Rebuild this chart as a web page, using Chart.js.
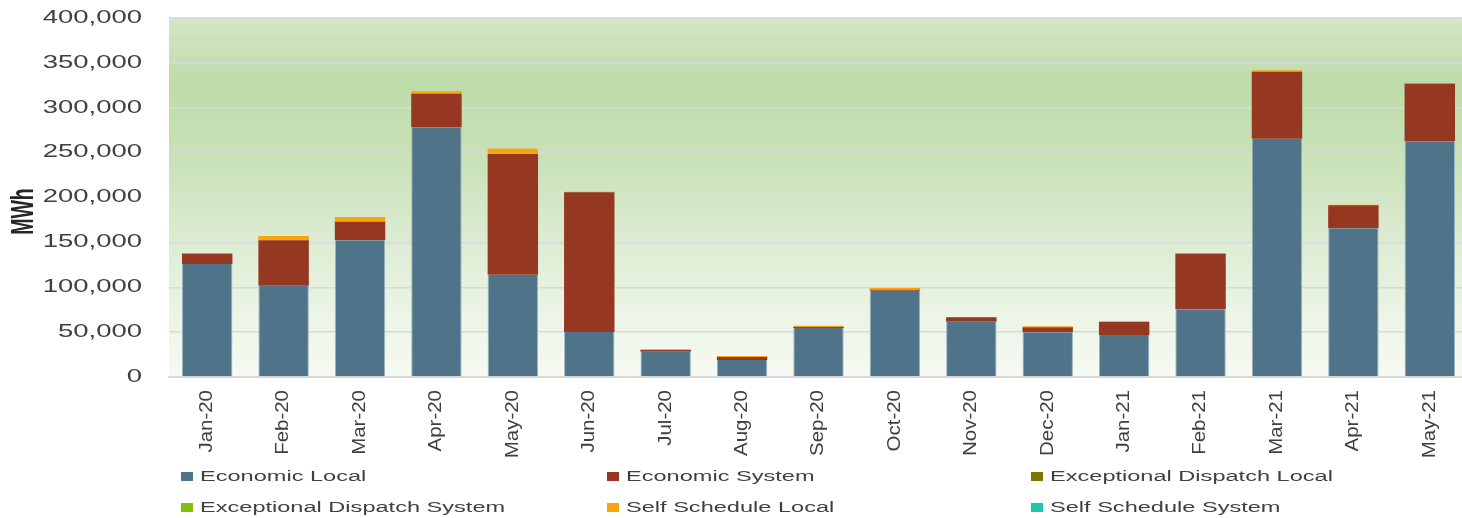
<!DOCTYPE html>
<html>
<head>
<meta charset="utf-8">
<script src="https://cdn.jsdelivr.net/npm/chart.js@4.4.1/dist/chart.umd.min.js"></script>
<style>
  html, body { margin: 0; padding: 0; background: #fff; overflow: hidden; }
  #wrap { position: relative; width: 1468px; height: 518px; }
  #legend { position: absolute; left: 0; top: 0; width: 1462px; height: 518px; pointer-events: none;
            font-family: "Liberation Sans", Arial, sans-serif; font-size: 15.5px; color: #404040; }
  .item { position: absolute; height: 20px; }
  .item .box { position: absolute; left: 0; top: 6px; width: 12px; height: 9px; }
  .item .txt { position: absolute; left: 19px; top: 1px; white-space: nowrap;
               transform: scaleX(1.52); transform-origin: left center; }
</style>
</head>
<body>
<div id="wrap">
  <canvas id="chart"></canvas>
  <div id="legend"></div>
</div>
<script>
const months = ['Jan-20', 'Feb-20', 'Mar-20', 'Apr-20', 'May-20', 'Jun-20', 'Jul-20', 'Aug-20', 'Sep-20',
                'Oct-20', 'Nov-20', 'Dec-20', 'Jan-21', 'Feb-21', 'Mar-21', 'Apr-21', 'May-21'];

const economicLocal   = [126000, 101700, 152300, 278200, 114000, 50100, 28200, 18900, 54600,
                         96200, 61600, 49800, 46800, 75400, 265500, 165700, 262600];
const economicSystem  = [11400, 50600, 20800, 37500, 134500, 155700, 1900, 3400, 1100,
                         1100, 4900, 5500, 14800, 62000, 74700, 25600, 64200];
const exceptionalLocal  = [0, 0, 0, 0, 0, 0, 0, 0, 0, 0, 0, 0, 0, 0, 0, 0, 0];
const exceptionalSystem = [0, 0, 0, 0, 0, 0, 0, 0, 0, 0, 0, 0, 0, 0, 0, 0, 0];
const selfLocal       = [800, 4800, 5200, 2600, 5900, 700, 700, 1100, 1500,
                         1900, 300, 1200, 300, 800, 1500, 700, 800];
const selfSystem      = [0, 0, 0, 0, 0, 0, 0, 0, 0, 0, 0, 0, 0, 0, 0, 0, 0];

const yTicks = [0, 50000, 100000, 150000, 200000, 250000, 300000, 350000, 400000];

const series = [
  { label: 'Economic Local',              data: economicLocal,     color: '#4f7489' },
  { label: 'Economic System',             data: economicSystem,    color: '#963722' },
  { label: 'Exceptional Dispatch Local',  data: exceptionalLocal,  color: '#807400' },
  { label: 'Exceptional Dispatch System', data: exceptionalSystem, color: '#84bf08' },
  { label: 'Self Schedule Local',         data: selfLocal,         color: '#f9a40a' },
  { label: 'Self Schedule System',        data: selfSystem,        color: '#1cc6b0' }
];

const FONT = '"Liberation Sans", Arial, sans-serif';
const TEXT = '#404040';

// plot area background: pale green wash fading to white near the baseline
const plotBackground = {
  id: 'plotBackground',
  beforeDraw(chart) {
    const { ctx, chartArea: a } = chart;
    const g = ctx.createLinearGradient(0, a.top, 0, a.bottom);
    g.addColorStop(0, '#d4e6c6');
    g.addColorStop(0.18, '#bedba9');
    g.addColorStop(0.4, '#c9e2b8');
    g.addColorStop(0.62, '#dcecd2');
    g.addColorStop(0.82, '#ebf4e5');
    g.addColorStop(1, '#f6faf3');
    ctx.save();
    ctx.fillStyle = g;
    ctx.fillRect(a.left, a.top, a.right - a.left, a.bottom - a.top);
    ctx.restore();
  }
};

// axis text in this chart is drawn wide; stretch it along the horizontal / label direction
const wideText = {
  id: 'wideText',
  beforeDraw(chart) {
    const y = chart.scales.y, x = chart.scales.x;
    if (y._wide) return;
    const yLabels = y.drawLabels, yTitle = y.drawTitle, xLabels = x.drawLabels;
    y.drawLabels = function (area) {
      const ctx = this.ctx, ax = this.right - this.options.ticks.padding;
      ctx.save();
      ctx.translate(ax, 0); ctx.scale(1.57, 1); ctx.translate(-ax, 0);
      yLabels.call(this, area);
      ctx.restore();
    };
    y.drawTitle = function () {
      const ctx = this.ctx, cx = 25;
      ctx.save();
      ctx.translate(cx, 14); ctx.scale(1.6, 1); ctx.translate(-cx, 0);
      yTitle.call(this);
      ctx.restore();
    };
    x.drawLabels = function (area) {
      const ctx = this.ctx, ty = this.top + this.options.ticks.padding;
      ctx.save();
      ctx.translate(0, ty); ctx.scale(1, 1.17); ctx.translate(0, -ty);
      xLabels.call(this, area);
      ctx.restore();
    };
    y._wide = true;
  }
};

new Chart(document.getElementById('chart'), {
  type: 'bar',
  data: {
    labels: months,
    datasets: series.map((s, i) => ({
      label: s.label,
      data: s.data,
      backgroundColor: s.color,
      borderColor: i === 0 ? '#9fb4c2' : s.color,
      borderWidth: i === 0 ? { left: 1, right: 1, top: 0, bottom: 0 } : 0,
      borderSkipped: false,
      barPercentage: 0.66,
      categoryPercentage: 1
    }))
  },
  options: {
    responsive: true,
    maintainAspectRatio: false,
    animation: false,
    layout: { padding: { top: 0, right: 0, bottom: 0, left: 0 } },
    plugins: {
      legend: { display: false },
      tooltip: { enabled: false }
    },
    scales: {
      x: {
        stacked: true,
        grid: { display: false, drawTicks: false },
        border: { display: true, color: '#d9d9d9', width: 2 },
        ticks: {
          autoSkip: false, minRotation: 90, maxRotation: 90, padding: 13,
          color: TEXT, font: { family: FONT, size: 17.5 }
        },
        afterFit: s => { s.height = 141; s.paddingLeft = 0; s.paddingRight = 0; }
      },
      y: {
        stacked: true,
        min: 0, max: 400000,
        afterBuildTicks: s => { s.ticks = yTicks.map(v => ({ value: v })); },
        grid: { color: '#d9d9d9', lineWidth: 1.5, drawTicks: false },
        border: { display: false },
        ticks: {
          padding: 27, color: TEXT, font: { family: FONT, size: 17.5 },
          callback: v => v.toLocaleString('en-US')
        },
        title: {
          display: true, text: 'MWh', color: '#262626',
          font: { family: FONT, size: 19.5, weight: 'bold' },
          padding: { top: 13, bottom: 0 }
        },
        afterFit: s => { s.width = 169; s.paddingTop = 18; s.paddingBottom = 0; }
      }
    }
  },
  plugins: [plotBackground, wideText]
});

// legend laid out in three columns under the axis labels
const legendCols = [181, 607, 1031];
const legendRows = [466, 497];
const legend = document.getElementById('legend');
series.forEach((s, i) => {
  const item = document.createElement('div');
  item.className = 'item';
  item.style.left = legendCols[i % 3] + 'px';
  item.style.top = legendRows[Math.floor(i / 3)] + 'px';
  const box = document.createElement('span');
  box.className = 'box';
  box.style.background = s.color;
  const txt = document.createElement('span');
  txt.className = 'txt';
  txt.textContent = s.label;
  item.appendChild(box);
  item.appendChild(txt);
  legend.appendChild(item);
});
</script>
</body>
</html>
